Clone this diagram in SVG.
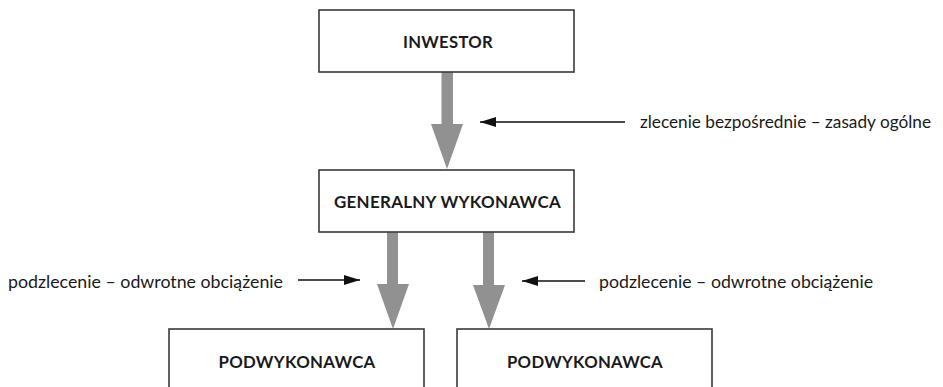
<svg xmlns="http://www.w3.org/2000/svg" width="943" height="387" viewBox="0 0 943 387">
  <style>
    .box { fill: #ffffff; stroke: #3a3a3a; stroke-width: 1.6; }
    .title { font-family: Lato, "Open Sans", sans-serif; font-weight: bold; font-size: 17px; letter-spacing: 0.3px; fill: #1a1a1a; text-anchor: middle; }
    .lbl { font-family: Lato, "Open Sans", sans-serif; font-size: 17px; fill: #1a1a1a; }
    .flow { fill: #919191; stroke: none; }
    .ptr { stroke: #111111; stroke-width: 1.5; fill: none; marker-end: url(#head); }
  </style>
  <defs>
    <marker id="head" markerUnits="userSpaceOnUse" markerWidth="17" markerHeight="11" refX="16" refY="5" orient="auto">
      <path d="M0,0 L16,5 L0,10 z" fill="#111111"/>
    </marker>
  </defs>

  <g id="connectors">
    <polygon class="flow" points="441.5,72 453,72 453,124 463,124 447,169 431,124 441.5,124"/>
    <polygon class="flow" points="387,232 398,232 398,284 409,284 393,329 377,284 387,284"/>
    <polygon class="flow" points="483,232 494,232 494,285 505,285 489,329 473,285 483,285"/>
    <line class="ptr" x1="625" y1="122" x2="480" y2="122"/>
    <line class="ptr" x1="298" y1="280" x2="360" y2="280"/>
    <line class="ptr" x1="585" y1="281" x2="522" y2="281"/>
  </g>

  <g id="labels">
    <text class="lbl" x="640" y="128" textLength="291" lengthAdjust="spacingAndGlyphs">zlecenie bezpośrednie – zasady ogólne</text>
    <text class="lbl" x="8" y="288" textLength="275" lengthAdjust="spacingAndGlyphs">podzlecenie – odwrotne obciążenie</text>
    <text class="lbl" x="599" y="288" textLength="274" lengthAdjust="spacingAndGlyphs">podzlecenie – odwrotne obciążenie</text>
  </g>

  <g id="inwestor">
    <rect class="box" x="319" y="10" width="255" height="62"/>
    <text class="title" x="448" y="48" textLength="90" lengthAdjust="spacingAndGlyphs">INWESTOR</text>
  </g>
  <g id="generalny-wykonawca">
    <rect class="box" x="319" y="170" width="255" height="62"/>
    <text class="title" x="447.5" y="208" textLength="227" lengthAdjust="spacingAndGlyphs">GENERALNY WYKONAWCA</text>
  </g>
  <g id="podwykonawca-1">
    <rect class="box" x="169" y="329" width="255" height="80"/>
    <text class="title" x="297" y="368" textLength="157" lengthAdjust="spacingAndGlyphs">PODWYKONAWCA</text>
  </g>
  <g id="podwykonawca-2">
    <rect class="box" x="457" y="329" width="255" height="80"/>
    <text class="title" x="585" y="368" textLength="156" lengthAdjust="spacingAndGlyphs">PODWYKONAWCA</text>
  </g>
</svg>
